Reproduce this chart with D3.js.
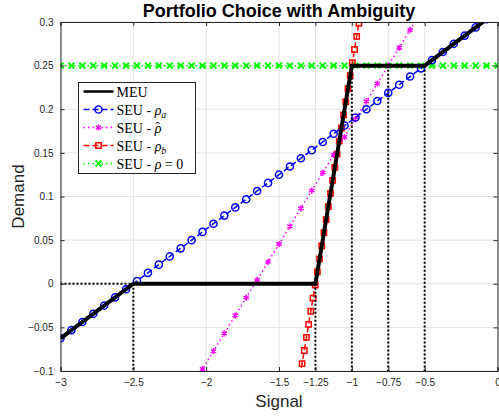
<!DOCTYPE html>
<html>
<head>
<meta charset="utf-8">
<script src="https://cdn.jsdelivr.net/npm/d3@7"></script>
<style>
  body { margin: 0; background: #fff; }
  svg { display: block; }
  text { font-family: "Liberation Sans", Arial, sans-serif; }
</style>
</head>
<body>
<div id="container"></div>
<script>
/* CONSTANTS AND GLOBALS */
const width = 499, height = 417,
  margin = { top: 22, right: 1.5, bottom: 46, left: 60.5 };

/* DATA */
const xTicks = [-3, -2.5, -2, -1.5, -1.25, -1, -0.75, -0.5, 0];
const yTicks = [-0.1, -0.05, 0, 0.05, 0.1, 0.15, 0.2, 0.25, 0.3];

// common signal grid
const signal = [-3, -2.925, -2.85, -2.775, -2.7, -2.625, -2.55, -2.475, -2.4, -2.325,
  -2.25, -2.175, -2.1, -2.025, -1.95, -1.875, -1.8, -1.725, -1.65, -1.575,
  -1.5, -1.425, -1.35, -1.275, -1.2, -1.125, -1.05, -0.975, -0.9, -0.825,
  -0.75, -0.675, -0.6, -0.525, -0.45, -0.375, -0.3, -0.225, -0.15, -0.075, 0];

// SEU - rho_a
const seuA = [-0.0625, -0.0531, -0.0438, -0.0344, -0.025, -0.0156, -0.0063, 0.0031, 0.0125, 0.0219,
  0.0313, 0.0406, 0.05, 0.0594, 0.0688, 0.0781, 0.0875, 0.0969, 0.1063, 0.1156,
  0.125, 0.1344, 0.1438, 0.1531, 0.1625, 0.1719, 0.1813, 0.1906, 0.2, 0.2094,
  0.2188, 0.2281, 0.2375, 0.2469, 0.2563, 0.2656, 0.275, 0.2844, 0.2938, 0.3031, 0.3125];

// SEU - rho hat (visible part of grid)
const signalHat = [-2.1, -2.025, -1.95, -1.875, -1.8, -1.725, -1.65, -1.575, -1.5, -1.425,
  -1.35, -1.275, -1.2, -1.125, -1.05, -0.975, -0.9, -0.825, -0.75, -0.675, -0.6, -0.525];
const seuHat = [-0.1182, -0.0977, -0.0773, -0.0568, -0.0364, -0.0159, 0.0045, 0.025, 0.0455, 0.0659,
  0.0864, 0.1068, 0.1273, 0.1477, 0.1682, 0.1886, 0.2091, 0.2295, 0.25, 0.2705, 0.2909, 0.3114];

// SEU - rho_b (finer grid)
const signalB = [-1.3565, -1.3415, -1.3265, -1.3115, -1.2965, -1.2815, -1.2665, -1.2515, -1.2365, -1.2215,
  -1.2065, -1.1915, -1.1765, -1.1615, -1.1465, -1.1315, -1.1165, -1.1015, -1.0865, -1.0715,
  -1.0565, -1.0415, -1.0265, -1.0115, -0.9965, -0.9815, -0.9665, -0.9515, -0.9365];
const seuB = [-0.1065, -0.0915, -0.0765, -0.0615, -0.0465, -0.0315, -0.0165, -0.0015, 0.0135, 0.0285,
  0.0435, 0.0585, 0.0735, 0.0885, 0.1035, 0.1185, 0.1335, 0.1485, 0.1635, 0.1785,
  0.1935, 0.2085, 0.2235, 0.2385, 0.2535, 0.2685, 0.2835, 0.2985, 0.3135];

// SEU - rho = 0
const seuZero = signal.map(() => 0.25);

// MEU kink points
const meuSignal = [-3, -2.5, -1.25, -1, -0.5, 0];
const meuDemand = [-0.0625, 0, 0, 0.25, 0.25, 0.3125];

// dotted guide lines [x1, y1, x2, y2]
const guides = [
  [-3, 0, -2.5, 0],
  [-2.5, 0, -2.5, -0.1],
  [-1.25, 0, -1.25, -0.1],
  [-1, 0.25, -1, -0.1],
  [-0.75, 0.25, -0.75, -0.1],
  [-0.5, 0.25, -0.5, -0.1]
];

/* SCALES */
const x = d3.scaleLinear().domain([-3, 0]).range([margin.left, width - margin.right]);
const y = d3.scaleLinear().domain([-0.1, 0.3]).range([height - margin.bottom, margin.top]);

const svg = d3.select("#container").append("svg")
  .attr("width", width)
  .attr("height", height);

svg.append("clipPath").attr("id", "plot")
  .append("rect")
  .attr("x", x(-3)).attr("y", y(0.3))
  .attr("width", x(0) - x(-3)).attr("height", y(-0.1) - y(0.3));

// GRID
const grid = svg.append("g").attr("stroke", "#e3e3e3").attr("stroke-width", 1);
grid.selectAll("line.gx").data(xTicks).join("line")
  .attr("x1", d => x(d)).attr("x2", d => x(d))
  .attr("y1", y(-0.1)).attr("y2", y(0.3));
grid.selectAll("line.gy").data(yTicks).join("line")
  .attr("y1", d => y(d)).attr("y2", d => y(d))
  .attr("x1", x(-3)).attr("x2", x(0));

// SERIES
const plot = svg.append("g").attr("clip-path", "url(#plot)");
const toPts = (xs, ys) => xs.map((v, i) => [v, ys[i]]);
const line = d3.line().x(d => x(d[0])).y(d => y(d[1]));

const series = [
  { key: "zero", pts: toPts(signal, seuZero), color: "#00ff00", dash: "1.5,3", sym: d3.symbolX, size: 24, sw: 2 },
  { key: "b", pts: toPts(signalB, seuB), color: "#ff0000", dash: "6,3", sym: d3.symbolSquare, size: 28, sw: 1.5 },
  { key: "hat", pts: toPts(signalHat, seuHat), color: "#ff00ff", dash: "1.5,3", sym: d3.symbolAsterisk, size: 26, sw: 1.5 },
  { key: "a", pts: toPts(signal, seuA), color: "#0000ff", dash: "6,3", sym: d3.symbolCircle, size: 40, sw: 1.5 }
];

series.forEach(s => {
  plot.append("path")
    .attr("d", line(s.pts))
    .attr("fill", "none")
    .attr("stroke", s.color)
    .attr("stroke-width", 1.5)
    .attr("stroke-dasharray", s.dash);
  plot.selectAll("path.m" + s.key).data(s.pts).join("path")
    .attr("class", "m" + s.key)
    .attr("transform", d => `translate(${x(d[0])},${y(d[1])})`)
    .attr("d", d3.symbol(s.sym, s.size))
    .attr("fill", "none")
    .attr("stroke", s.color)
    .attr("stroke-width", s.sw);
});

// MEU
plot.append("path")
  .attr("d", line(toPts(meuSignal, meuDemand)))
  .attr("fill", "none")
  .attr("stroke", "#000")
  .attr("stroke-width", 4);

// guides
plot.selectAll("line.guide").data(guides).join("line")
  .attr("class", "guide")
  .attr("x1", d => x(d[0])).attr("y1", d => y(d[1]))
  .attr("x2", d => x(d[2])).attr("y2", d => y(d[3]))
  .attr("stroke", "#000")
  .attr("stroke-width", 2)
  .attr("stroke-dasharray", "2,2");

// AXES
const axisColor = "#262626";
const xAxis = svg.append("g")
  .attr("transform", `translate(0,${y(-0.1)})`)
  .call(d3.axisBottom(x).tickValues(xTicks).tickSize(-4).tickPadding(8).tickFormat(d => d === 0 ? "0" : d3.format("")(d)));
const yAxis = svg.append("g")
  .attr("transform", `translate(${x(-3)},0)`)
  .call(d3.axisLeft(y).tickValues(yTicks).tickSize(-4).tickPadding(7).tickFormat(d => d === 0 ? "0" : d3.format("")(d)));
const xTop = svg.append("g")
  .attr("transform", `translate(0,${y(0.3)})`)
  .call(d3.axisTop(x).tickValues(xTicks).tickSize(-4).tickFormat(""));
const yRight = svg.append("g")
  .attr("transform", `translate(${x(0)},0)`)
  .call(d3.axisRight(y).tickValues(yTicks).tickSize(-4).tickFormat(""));

[xAxis, yAxis, xTop, yRight].forEach(g => {
  g.select(".domain").attr("stroke", axisColor).attr("stroke-width", 1);
  g.selectAll(".tick line").attr("stroke", axisColor);
  g.selectAll(".tick text").attr("fill", axisColor).style("font-size", "10px")
    .style("font-family", "'Liberation Sans', Arial, sans-serif");
});

// TITLE AND LABELS
svg.append("text")
  .attr("x", (x(-3) + x(0)) / 2).attr("y", 17)
  .attr("text-anchor", "middle")
  .style("font-size", "18px").style("font-weight", "bold")
  .attr("fill", "#000")
  .text("Portfolio Choice with Ambiguity");

svg.append("text")
  .attr("x", (x(-3) + x(0)) / 2).attr("y", 407)
  .attr("text-anchor", "middle")
  .style("font-size", "17px")
  .attr("fill", axisColor)
  .text("Signal");

svg.append("text")
  .attr("transform", `translate(24,${(y(-0.1) + y(0.3)) / 2}) rotate(-90)`)
  .attr("text-anchor", "middle")
  .style("font-size", "17px")
  .attr("fill", axisColor)
  .text("Demand");

// LEGEND
const legend = svg.append("g").attr("transform", "translate(78.5,82.5)");
legend.append("rect")
  .attr("width", 117).attr("height", 91)
  .attr("fill", "#fff")
  .attr("stroke", axisColor).attr("stroke-width", 1);

const legendItems = [
  { label: "MEU", color: "#000", dash: null, sym: null, width: 2.5 },
  { label: "a", color: "#0000ff", dash: "6,3", sym: d3.symbolCircle, size: 40, width: 1.5, sw: 1.5 },
  { label: "hat", color: "#ff00ff", dash: "1.5,3", sym: d3.symbolAsterisk, size: 26, width: 1.5, sw: 1.5 },
  { label: "b", color: "#ff0000", dash: "6,3", sym: d3.symbolSquare, size: 28, width: 1.5, sw: 1.5 },
  { label: "zero", color: "#00ff00", dash: "1.5,3", sym: d3.symbolX, size: 24, width: 1.5, sw: 2 }
];

legendItems.forEach((it, i) => {
  const g = legend.append("g").attr("transform", `translate(0,${9 + i * 18})`);
  g.append("line")
    .attr("x1", 5).attr("x2", 35)
    .attr("stroke", it.color).attr("stroke-width", it.width)
    .attr("stroke-dasharray", it.dash);
  if (it.sym) {
    g.append("path")
      .attr("transform", "translate(20,0)")
      .attr("d", d3.symbol(it.sym, it.size))
      .attr("fill", "none")
      .attr("stroke", it.color).attr("stroke-width", it.sw);
  }
  const t = g.append("text")
    .attr("x", 38).attr("y", 5)
    .style("font-family", "'Liberation Serif', 'Times New Roman', serif")
    .style("font-size", "14px")
    .attr("fill", "#000");
  if (it.label === "MEU") {
    t.text("MEU");
  } else {
    t.append("tspan").text("SEU - ");
    if (it.label === "hat") {
      t.append("tspan").style("font-style", "italic").text("\u03C1");
      t.append("tspan").attr("dx", -6).attr("dy", -1).text("\u02C6");
    } else if (it.label === "zero") {
      t.append("tspan").style("font-style", "italic").text("\u03C1");
      t.append("tspan").text(" = 0");
    } else {
      t.append("tspan").style("font-style", "italic").text("\u03C1");
      t.append("tspan").style("font-style", "italic").style("font-size", "10px")
        .attr("dy", 3).text(it.label);
    }
  }
});
</script>
</body>
</html>
